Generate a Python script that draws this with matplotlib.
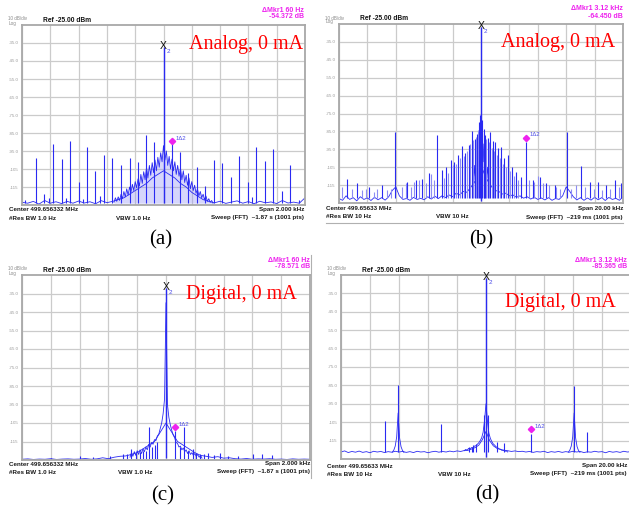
import numpy as np
import matplotlib
matplotlib.use('Agg')
import matplotlib.pyplot as plt
from matplotlib.lines import Line2D

W, H = 629, 508

# ---------------- panel (a): analog, span 2 kHz (Hz offsets) ----------------
a_peak = (0, -37.0)
a_marker = (59, -89.5)
a_spur_f = [-980, -901, -842, -810, -781, -720, -690, -659, -600, -570, -541, -482,
            -450, -421, -362, -301, -240, -181, -122, -64, 59, 118, 176, 235, 296,
            355, 416, 475, 536, 595, 625, 656, 715, 776, 835, 896, 955, 1000]
a_spur_db = [-122, -99, -119, -121, -91, -99.5, -121, -89.5, -112, -121.5, -93, -106,
             -120, -97, -99, -103, -99, -101, -86, -90, -91, -95.5, -107, -104, -114.5,
             -100, -101.5, -109.5, -98, -112, -120.5, -93, -100.5, -94, -117, -103, -122, -120]
a_floor_f = np.arange(-1000, 1001, 40)
a_floor_db = [-123.5, -124, -123, -124.5, -122.5, -124, -123.2, -124.2, -123, -124,
              -122.8, -123.9, -123.2, -124.3, -122.6, -123.7, -123, -122, -121, -119,
              -117, -115, -113, -110, -108, -106, -108, -110, -113, -115,
              -118, -120, -122, -123, -123.8, -122.9, -124.1, -123.4, -122.7, -124,
              -123.1, -124.3, -122.9, -123.8, -123.3, -124.2, -122.5, -123.9, -123.4, -124,
              -121]
a_hump_f = np.arange(-350, 351, 10)
a_hump_db = [-123.5, -121, -123, -120.5, -122.5, -119, -121.5, -117.5, -120.5, -116,
             -119.5, -115, -118, -113.5, -117, -112, -115.5, -110.5, -114.5, -108,
             -113, -106.5, -111, -104, -110, -103, -108.5, -101.5, -107, -100,
             -106, -98.5, -104, -96, -101, -92, -100, -95, -103, -98,
             -105, -99.5, -106, -101, -108, -103, -109, -104.5, -111, -106,
             -112.5, -108.5, -114, -110, -116, -112, -117, -114, -118.5, -116,
             -120, -117.5, -121, -119, -122, -120, -123, -121.5, -123.5, -122.5,
             -124]

# ---------------- panel (b): analog, span 20 kHz (kHz offsets) ----------------
b_peak = (0, -26.5)
b_marker = (3.18, -88.5)
b_spur_f = [-9.41, -8.7, -7.9, -6.94, -6.05, -5.18, -4.59, -4.12, -3.65, -3.1, -2.75,
            -2.47, -2.12, -1.88, -1.65, -1.34, -1.1, -0.87, -0.64, -0.45, -0.31, -0.16,
            -0.07, 0.09, 0.19, 0.31, 0.47, 0.66, 0.82, 1.01, 1.22, 1.41, 1.65, 1.88,
            2.19, 2.47, 2.82, 3.18, 3.65, 4.12, 4.59, 5.18, 6.05, 7.06, 7.65, 8.24,
            8.82, 9.41, 9.88]
b_spur_db = [-111.8, -114, -116, -115, -85.6, -113, -112, -111.7, -108.5, -87.1, -106.6,
             -104.8, -101, -102, -98.3, -93, -97.3, -92.7, -84.9, -89.3, -86.7, -79.7,
             -76, -78.7, -83.4, -87.1, -88.6, -85.2, -90.4, -91.2, -94.2, -93.6, -100.1, -98.3,
             -104.8, -107.6, -110.3, -90.8, -112.2, -110.3, -114, -115, -85.2, -104.2, -113.1, -113.5,
             -115, -112.2, -114]
b_mid_f = [-2.6, -2.3, -2.0, -1.75, -1.5, -1.22, -0.98, -0.75, -0.55, -0.38, -0.24,
           0.24, 0.38, 0.56, 0.74, 0.92, 1.12, 1.32, 1.53, 1.76, 2.03, 2.3, 2.6]
b_mid_db = [-111, -108, -104, -103, -100, -99, -96, -92, -90, -88, -84,
            -86, -89, -91, -94, -96, -98, -100, -103, -105, -107, -110, -112]
b_grass_f = [-9.76, -9.11, -8.35, -8.12, -7.53, -7.29, -6.59, -6.35, -5.53, -5.29, -4.94,
             -4.71, -4.35, -3.88, -3.53, -3.34, 3.41, 3.76, 4.0, 4.35, 4.82, 5.29, 5.58,
             6.35, 6.71, 7.29, 7.93, 8.52, 9.11, 9.72]
b_grass_db = [-116, -117, -118, -117, -119, -117, -118, -117, -116, -114, -116,
              -113, -112, -114, -109, -112, -112, -113, -110, -114, -115, -116, -117,
              -117, -115, -116, -117, -118, -117, -116]
b_floor_f = np.arange(-10, 10.01, 0.25)
b_floor_db = [-122.5, -123.5, -121, -123, -122, -123.8, -121.5, -123, -122.2, -123.6,
              -121.8, -123.2, -122, -123.4, -121.5, -118, -116, -121, -123, -122.5,
              -123.5, -121.8, -123, -122.4, -123.2, -121.5, -122.8, -121.2, -122.5, -121,
              -122, -120.5, -121.5, -119.5, -120.5, -118.5, -119, -116.5, -114, -110,
              -104, -109, -113, -116, -118, -118.5, -120, -119.5, -121, -120.5,
              -121.8, -121, -122.3, -121.5, -122.8, -121.8, -123, -122.2, -123.3, -122,
              -123.5, -122.5, -123, -121, -116, -118.5, -121.5, -123.3, -122, -123.5,
              -122.2, -123.4, -121.8, -123.2, -122, -123.6, -121.9, -123, -122.4, -123.5,
              -121.5]
b_core_f = np.arange(-0.6, 0.61, 0.05)
b_core_db = [-113, -106, -112, -104, -110, -100, -108, -97, -104, -93, -98, -88, -84,
             -88, -96, -92, -102, -98, -106, -101, -109, -105, -111, -107, -113]

# ---------------- panel (c): digital, span 2 kHz (Hz offsets) ----------------
c_peak = (0, -32.0)
c_marker = (62, -107.4)
c_spur_f = [-802, -597, -509, -389, -300, -270, -243, -210, -181, -160, -139, -116,
            -100, -76, -60, 62, 100, 125, 150, 185, 210, 236, 265, 294, 330, 375,
            433, 500, 602, 664, 734]
c_spur_db = [-124, -122.7, -123.5, -123, -122, -121.5, -119.3, -121, -120.5, -120, -120,
             -107, -118, -117, -115, -109.2, -118, -106.9, -120, -119, -121, -121.5,
             -122, -121, -122.3, -121, -123, -123, -121.8, -121.8, -122.3]
c_floor_f = np.arange(-1000, 1001, 40)
c_floor_db = [-124.6, -124.4, -124.7, -124.5, -124.6, -124.3, -124.7, -124.5, -124.4, -124.6,
              -124.5, -124.2, -124.6, -124.4, -123.8, -124.3, -123.5, -123, -122.8, -122,
              -121, -119, -117, -115, -110, -105, -110, -115, -117, -119,
              -121, -122.5, -123, -123.6, -123.2, -124, -123.8, -124.3, -124.5, -124.2,
              -124.6, -124.4, -124.5, -124.3, -124.6, -124.5, -124.7, -124.4, -124.6, -124.5,
              -124.6]
c_skirt_f = np.arange(-250, 251, 10)
c_skirt_db = [-123.5, -121, -123, -120.5, -122.5, -120, -122, -119.5, -121.5, -119,
              -120.5, -118, -119.5, -116.5, -118, -115.5, -116.5, -114, -114.5, -112,
              -111, -108, -105, -100, -92, -40, -95, -102, -106, -109,
              -111.5, -113, -115.5, -116, -118, -117.5, -119.5, -118.5, -120.5, -119.5,
              -121.5, -120, -122, -121, -122.5, -121.5, -123, -122, -123.5, -122.5,
              -124]

# ---------------- panel (d): digital, span 20 kHz (kHz offsets) ----------------
d_peak = (0, -26.5)
d_marker = (3.11, -108.9)
d_spur_f = [-6.96, -6.06, -3.13, -1.2, -1.0, -0.9, -0.7, -0.14, 0.12, 0.74, 1.27,
            3.11, 6.08, 6.96]
d_spur_db = [-104.5, -84.8, -105.9, -118.5, -118.3, -117.5, -117, -101.3, -100.9,
             -116, -116.4, -111.6, -85.2, -110.4]
d_floor_f = np.arange(-10, 10.01, 0.25)
d_floor_db = [-121.2, -120.6, -121.5, -120.9, -121.3, -120.7, -121.4, -121.0, -121.6, -120.8,
              -121.2, -120.9, -121.5, -121.0, -121.3, -120.8, -121.2, -120.9, -121.4, -121.0,
              -121.5, -120.8, -121.2, -121.0, -121.6, -121.1, -120.8, -121.3, -120.9, -121.2,
              -120.7, -121.1, -120.6, -120.9, -120.4, -120.3, -119.6, -118.8, -117.5, -114.5,
              -110, -115, -117.8, -119.2, -119.8, -120.3, -120.5, -120.9, -120.6, -121.0,
              -120.8, -121.2, -120.9, -121.4, -121.0, -121.2, -120.8, -121.5, -121.0, -121.3,
              -120.9, -121.4, -121.0, -121.3, -120.8, -121.2, -120.9, -121.5, -121.1, -121.3,
              -120.8, -121.2, -121.0, -121.6, -120.9, -121.3, -121.0, -121.4, -120.8, -121.2,
              -121.0]
d_skirt_f = np.arange(-1.5, 1.51, 0.1)
d_skirt_db = [-120.5, -119.8, -120.2, -119.2, -119.6, -118.8, -118.9, -118, -117.8, -117,
              -116.2, -115, -113.5, -110.5, -104, -95, -104.5, -111, -113.8, -115.5,
              -116.8, -117.5, -118.4, -118.8, -119.5, -119.7, -120.3, -120.2, -120.8, -120.6,
              -121.2]
d_side_off = [-0.4, -0.3, -0.2, -0.1, 0.0, 0.1, 0.2, 0.3, 0.4]
d_side_db = [-121.3, -120.2, -118, -113, -100, -113.5, -118.3, -120.4, -121.4]

ytick_vals = [-35, -45, -55, -65, -75, -85, -95, -105, -115]
ytick_labels = ['-35.0', '-45.0', '-55.0', '-65.0', '-75.0', '-85.0', '-95.0', '-105', '-115']

BLUE = '#2a2af2'
LIGHT = '#8c8cf4'
MAGENTA = '#ee22ee'
SANS = 'Liberation Sans'
SERIF = 'Liberation Serif'

fig = plt.figure(figsize=(W / 100, H / 100), dpi=100)
fig.patch.set_facecolor('white')


def ftext(x, y, s, **kw):
    # place text at image pixel coords
    fig.text(x / W, 1 - y / H, s, **kw)


def make_axes(l, t, r, b, span):
    ax = fig.add_axes([l / W, 1 - b / H, (r - l) / W, (b - t) / H])
    ax.set_xlim(-span, span)
    ax.set_ylim(-125, -25)
    ax.set_xticks(np.linspace(-span, span, 11))
    ax.set_xticklabels([])
    ax.set_yticks(ytick_vals)
    ax.set_yticklabels(ytick_labels, fontsize=3.2, color='#9a9a9a', family=SANS)
    ax.tick_params(length=0, pad=2.5)
    ax.grid(True, color='#cbcbcb', lw=0.9)
    ax.set_axisbelow(True)
    for sp in ax.spines.values():
        sp.set_color('#a8a8a8')
        sp.set_linewidth(1.3)
    return ax


def draw_marks(ax, peak, marker, xoff):
    ax.vlines(peak[0], -124, peak[1], color=BLUE, lw=1.0)
    ax.text(peak[0], peak[1] + 0.5, 'X', ha='center', va='center', fontsize=7.5,
            family=SANS, color='#111111')
    ax.text(peak[0] + xoff * 0.8, peak[1] - 2.5, '2', ha='left', va='center', fontsize=4.5,
            family=SANS, color='#4a4ae8')
    ax.plot(marker[0], marker[1], 'D', ms=3.2, color=MAGENTA, mec=MAGENTA)
    ax.text(marker[0] + xoff, marker[1] + 1.5, '1\u03942', ha='left', va='center',
            fontsize=4.3, family=SANS, color='#5050e8')


def header(x0, y0, x1, mkr1, mkr2):
    ftext(x0, y0 + 5, '10 dB/div', fontsize=3.3, color='#8a8a8a', family=SANS, va='center')
    ftext(x0 + 1, y0 + 9, 'Log', fontsize=3.3, color='#8a8a8a', family=SANS, va='center')
    ftext(x0 + 35, y0 + 6, 'Ref -25.00 dBm', fontsize=4.8, weight='bold', color='#111111',
          family=SANS, va='center')
    ftext(x1, y0 - 4, '\u0394Mkr1 ' + mkr1, fontsize=5.0, weight='bold', color=MAGENTA,
          family=SANS, ha='right', va='center')
    ftext(x1, y0 + 3, mkr2, fontsize=5.0, weight='bold', color=MAGENTA,
          family=SANS, ha='right', va='center')


def footer(x0, y0, xm, x1, center, span, rbw, vbw, sweep):
    kw = dict(fontsize=4.5, weight='bold', color='#1a1a1a', family=SANS, va='center')
    ftext(x0, y0, 'Center ' + center, **kw)
    ftext(x1, y0, 'Span ' + span, ha='right', **kw)
    ftext(x0, y0 + 8, '#Res BW ' + rbw, **kw)
    ftext(xm, y0 + 8, 'VBW ' + vbw, **kw)
    ftext(x1, y0 + 8, 'Sweep (FFT)  ' + sweep, ha='right', **kw)


# ---- (a)
ax = make_axes(22, 25, 305, 205, 1000)
ax.fill_between(a_hump_f, -124, a_hump_db, color=LIGHT, alpha=0.35, lw=0)
ax.plot(a_floor_f, a_floor_db, color=BLUE, lw=0.6)
ax.plot(a_hump_f, a_hump_db, color=BLUE, lw=0.6)
ax.vlines(a_spur_f, -124, a_spur_db, color=BLUE, lw=0.8)
draw_marks(ax, a_peak, a_marker, 25)
header(8, 14, 304, '60 Hz', '-54.372 dB')
footer(9, 210, 116, 304, '499.656332 MHz', '2.000 kHz', '1.0 Hz', '1.0 Hz', '~1.87 s (1001 pts)')
ftext(246, 44, 'Analog, 0 mA', fontsize=14.5, color='red', family=SERIF, ha='center', va='center')
ftext(161, 240, '(a)', fontsize=15, color='black', family=SERIF, ha='center', va='center')

# ---- (b)
ax = make_axes(339, 24, 623, 203, 10)
ax.fill_between(b_core_f, -122, b_core_db, color=LIGHT, alpha=0.35, lw=0)
ax.plot(b_floor_f, b_floor_db, color=BLUE, lw=0.6)
ax.plot(b_core_f, b_core_db, color=BLUE, lw=0.6)
ax.vlines(b_grass_f, -122, b_grass_db, color=LIGHT, lw=0.8)
ax.vlines(b_mid_f, -122, b_mid_db, color=LIGHT, lw=0.8)
ax.vlines(b_spur_f, -122, b_spur_db, color=BLUE, lw=0.8)
draw_marks(ax, b_peak, b_marker, 0.25)
header(325, 13, 623, '3.12 kHz', '-64.450 dB')
footer(326, 209, 436, 623, '499.65633 MHz', '20.00 kHz', '10 Hz', '10 Hz', '~219 ms (1001 pts)')
ftext(558, 43, 'Analog, 0 mA', fontsize=14.5, color='red', family=SERIF, ha='center', va='center')
ftext(481, 240, '(b)', fontsize=15, color='black', family=SERIF, ha='center', va='center')
fig.add_artist(Line2D([326 / W, 623 / W], [1 - 223 / H, 1 - 223 / H], color='#b0b0b0', lw=0.8))

# ---- (c)
ax = make_axes(22, 275, 310, 460, 1000)
ax.plot(c_floor_f, c_floor_db, color=BLUE, lw=0.6)
ax.plot(c_skirt_f, c_skirt_db, color=BLUE, lw=0.6)
ax.vlines(c_spur_f, -124.5, c_spur_db, color=BLUE, lw=0.8)
draw_marks(ax, c_peak, c_marker, 25)
header(8, 264, 310, '60 Hz', '-78.571 dB')
footer(9, 464, 118, 310, '499.656332 MHz', '2.000 kHz', '1.0 Hz', '1.0 Hz', '~1.87 s (1001 pts)')
ftext(241, 295, 'Digital, 0 mA', fontsize=14.5, color='red', family=SERIF, ha='center', va='center')
ftext(163, 496, '(c)', fontsize=15, color='black', family=SERIF, ha='center', va='center')

# ---- (d)
ax = make_axes(341, 275, 631, 459, 10)
ax.plot(d_floor_f, d_floor_db, color=BLUE, lw=0.6)
ax.plot(d_skirt_f, d_skirt_db, color=BLUE, lw=0.6)
for fc in (-6.06, 6.08):
    ax.plot(np.array(d_side_off) + fc, d_side_db, color=BLUE, lw=0.6)
ax.vlines(d_spur_f, -121, d_spur_db, color=BLUE, lw=0.8)
draw_marks(ax, d_peak, d_marker, 0.25)
header(327, 264, 627, '3.12 kHz', '-85.365 dB')
footer(327, 466, 438, 627, '499.65633 MHz', '20.00 kHz', '10 Hz', '10 Hz', '~219 ms (1001 pts)')
ftext(560, 302, 'Digital, 0 mA', fontsize=14.5, color='red', family=SERIF, ha='center', va='center')
ftext(487, 495, '(d)', fontsize=15, color='black', family=SERIF, ha='center', va='center')
fig.add_artist(Line2D([311 / W, 311 / W], [1 - 255 / H, 1 - 478 / H], color='#b0b0b0', lw=0.8))

fig.savefig('out.png', dpi=100, facecolor='white')
